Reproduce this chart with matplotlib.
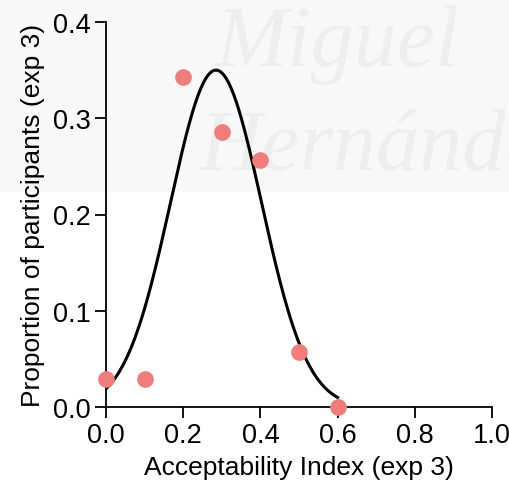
import numpy as np
import matplotlib
matplotlib.use("Agg")
import matplotlib.pyplot as plt

plt.rcParams['font.family'] = ['Liberation Sans', 'DejaVu Sans']

# Observed proportions per acceptability index
acceptability = [0.0, 0.1, 0.2, 0.3, 0.4, 0.5, 0.6]
proportion = [0.0286, 0.0286, 0.343, 0.286, 0.257, 0.057, 0.0]

# Fitted Gaussian (amplitude, mean, sd)
fit_amp = 0.350
fit_mean = 0.285
fit_sd = 0.118
fit_range = (0.0, 0.6)

x_ticks = [0.0, 0.2, 0.4, 0.6, 0.8, 1.0]
y_ticks = [0.0, 0.1, 0.2, 0.3, 0.4]

fig = plt.figure(figsize=(5.10, 4.89), dpi=100)

# faint background watermark
bg = fig.add_axes([0, 0, 1, 1], zorder=-1)
bg.set_xlim(0, 510)
bg.set_ylim(489, 0)
bg.axis('off')
bg.add_patch(plt.Rectangle((0, 0), 510, 193, color='#f8f8f8', lw=0))
bg.text(215, 66, 'Miguel', fontsize=62, style='italic',
        family='Liberation Serif', color='#eeeeee')
bg.text(200, 170, 'Hernández', fontsize=62, style='italic',
        family='Liberation Serif', color='#eeeeee', clip_on=True)

ax = fig.add_axes([106 / 510, 1 - 408 / 489, 386 / 510, 385 / 489])
ax.patch.set_alpha(0)

xs = np.linspace(fit_range[0], fit_range[1], 300)
ys = fit_amp * np.exp(-(xs - fit_mean) ** 2 / (2 * fit_sd ** 2))
ax.plot(xs, ys, color='black', lw=2.2, zorder=3)

ax.plot(acceptability, proportion, 'o', color='#f07c7c', markersize=12,
        markeredgewidth=0, clip_on=False, zorder=4)

ax.set_xlim(0, 1.0)
ax.set_ylim(0, 0.4)
ax.set_xticks(x_ticks)
ax.set_yticks(y_ticks)
ax.set_xticklabels([f'{v:.1f}' for v in x_ticks])
ax.set_yticklabels([f'{v:.1f}' for v in y_ticks])

for s in ['top', 'right']:
    ax.spines[s].set_visible(False)
for s in ['left', 'bottom']:
    ax.spines[s].set_linewidth(1.3)

ax.tick_params(direction='out', length=8, width=1.3, labelsize=19.5, pad=3)
ax.set_xlabel('Acceptability Index (exp 3)', fontsize=19, labelpad=5)
ax.set_ylabel('Proportion of participants (exp 3)', fontsize=19, labelpad=6)

fig.savefig('out.png', dpi=100)
